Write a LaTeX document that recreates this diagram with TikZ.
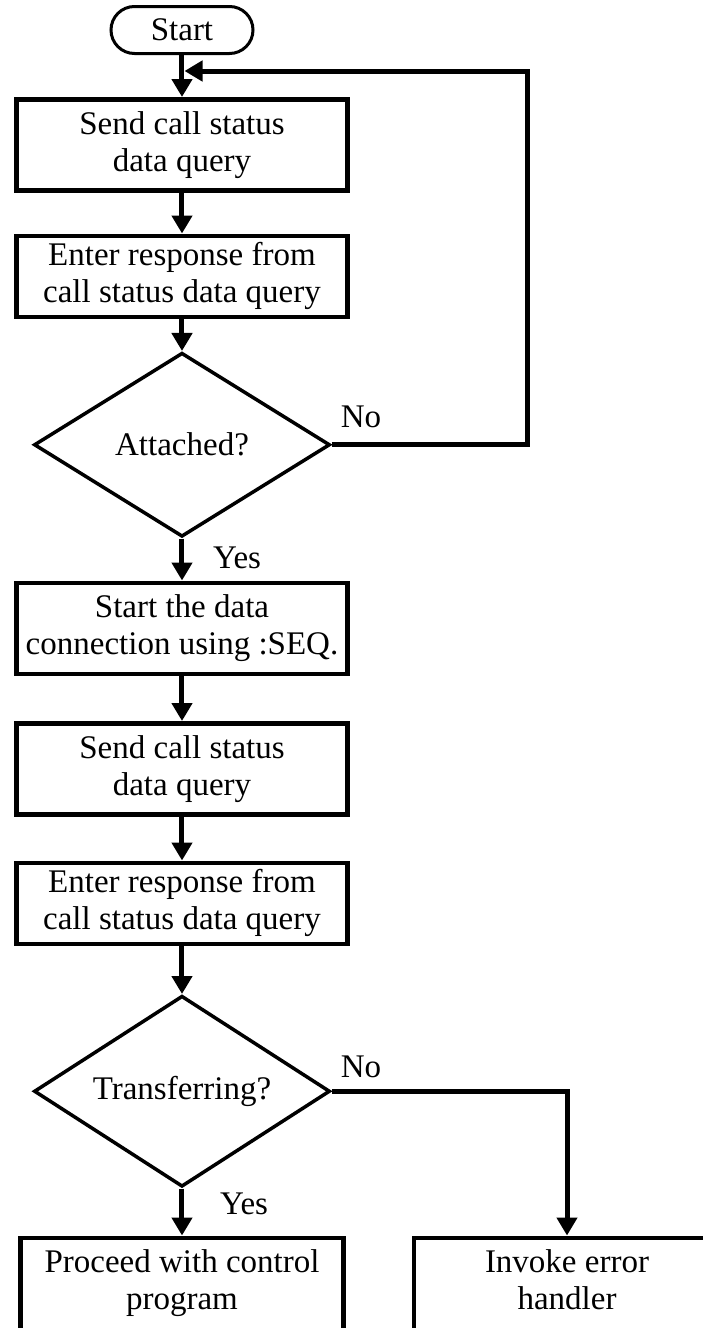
\documentclass[tikz,border=0pt]{standalone}
\usepackage{fontspec}
\setmainfont{Liberation Serif}
\usetikzlibrary{arrows.meta,positioning,shapes.geometric,shapes.misc}
\tikzset{
	box/.style={draw, line width=4.5pt, align=center, minimum height=91pt, minimum width=331pt, inner sep=0pt},
	short/.style={minimum height=81pt},
	term/.style={draw, rounded rectangle, line width=3pt, minimum height=47pt, minimum width=142pt, inner sep=0pt},
	ask/.style={draw, diamond, aspect=1.6, line width=3.5pt, minimum width=296pt, minimum height=184pt, inner sep=2pt},
	endbox/.style={box, text height=72pt, text depth=110pt},
	lbl/.style={inner sep=0pt, outer sep=0pt},
	flow/.style={-{Triangle[length=18pt, width=20pt]}, line width=5pt}
}
\begin{document}
\begin{tikzpicture}[node distance=42pt, font=\fontsize{33pt}{37pt}\selectfont]
	\useasboundingbox (-182pt,30pt) rectangle (521pt,-1298pt);
	\clip (-182pt,30pt) rectangle (521pt,-1298pt);
	\node[term] (start) {Start};
	\node[box, below=42pt of start] (send1) {Send call status\\data query};
	\node[box, short, below=41pt of send1] (enter1) {Enter response from\\call status data query};
	\node[ask, below=32pt of enter1] (attached) {Attached?};
	\node[box, below=42pt of attached] (seq) {Start the data\\connection using :SEQ.};
	\node[box, below=45pt of seq] (send2) {Send call status\\data query};
	\node[box, short, below=44pt of send2] (enter2) {Enter response from\\call status data query};
	\node[ask, minimum height=191pt, below=48pt of enter2] (transfer) {Transferring?};
	\node[endbox, minimum width=323pt, below=47pt of transfer] (proceed) {Proceed with control\\program};
	\node[endbox, minimum width=306pt, right=66pt of proceed] (error) {Invoke error\\handler};
	% branch labels
	\node[lbl, above right=17pt and 9pt of attached.east] (no1) {No};
	\node[lbl, below right=8pt and 31pt of attached.south] (yes1) {Yes};
	\node[lbl, above right=13pt and 9pt of transfer.east] (no2) {No};
	\node[lbl, below right=4pt and 38pt of transfer.south] (yes2) {Yes};
	\coordinate (loopin) at ([xshift=2.5pt, yshift=-16pt]start.south);
	\draw[flow] (start) -- (send1);
	\draw[flow] (send1) -- (enter1);
	\draw[flow] (enter1) -- (attached);
	\draw[flow] (attached) -- (seq);
	\draw[flow] (seq) -- (send2);
	\draw[flow] (send2) -- (enter2);
	\draw[flow] (enter2) -- (transfer);
	\draw[flow] (transfer) -- (proceed);
	\draw[flow] (attached.east) -- ++(196pt,0) |- (loopin);
	\draw[flow] (transfer.east) -| (error.north);
\end{tikzpicture}
\end{document}
